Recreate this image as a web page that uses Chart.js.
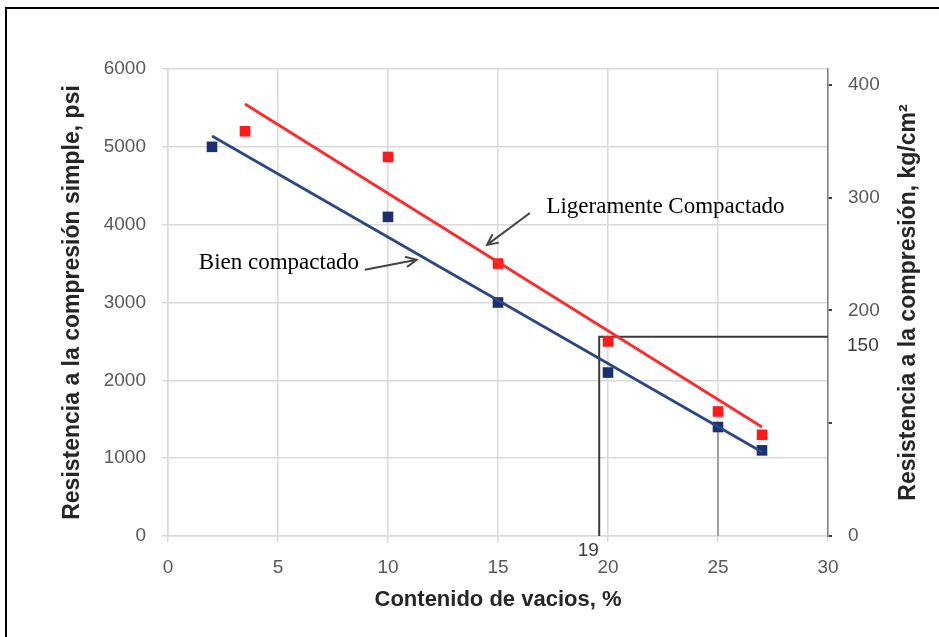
<!DOCTYPE html>
<html>
<head>
<meta charset="utf-8">
<script src="https://cdn.jsdelivr.net/npm/chart.js@4.4.1/dist/chart.umd.min.js"></script>
<style>
  html, body { margin: 0; padding: 0; background: #fff; }
  #wrap { width: 939px; height: 637px; position: relative; }
</style>
</head>
<body>
<div id="wrap"><canvas id="voidsChart"></canvas></div>
<script>
// x = contenido de vacios (%), y = resistencia (psi)
const bienX = [2, 10, 15, 20, 25, 27];
const bienPsi = [5000, 4100, 3000, 2100, 1400, 1100];
const ligeX = [3.5, 10, 15, 20, 25, 27];
const ligePsi = [5200, 4870, 3500, 2500, 1600, 1300];

// trend lines
const bienTrendX = [2, 27];
const bienTrendPsi = [5140, 1080];
const ligeTrendX = [3.5, 27];
const ligeTrendPsi = [5550, 1400];

const xTicks = [0, 5, 10, 15, 20, 25, 30];
const psiTicks = [0, 1000, 2000, 3000, 4000, 5000, 6000];
const kgTicks = [0, 100, 200, 300, 400];
const kgTickLabels = ["0", "", "200", "300", "400"];

// hand-drawn reference marks
const refVoid = 19.6, refVoidLabel = "19";
const refPsi = 2560, refPsiLabel = "150";
const ref25Void = 25, ref25Psi = 1400;

const notes = [
  { text: "Bien compactado", x: 1.4, y: 3510, fromX: 8.95, fromY: 3420, toX: 11.3, toY: 3548 },
  { text: "Ligeramente Compactado", x: 17.2, y: 4230, fromX: 16.45, fromY: 4150, toX: 14.5, toY: 3740 }
];

const rightTitle = "Resistencia a la compresión, kg/cm²";

function pts(xs, ys) {
  return xs.map((x, i) => ({ x: x, y: ys[i] }));
}

const tickFont = { family: "Liberation Sans, Arial, sans-serif", size: 19 };
const titleFont = { family: "Liberation Sans, Arial, sans-serif", size: 23, weight: "bold" };
const gridColor = "#d9d9d9";

const framePlugin = {
  id: "frame",
  beforeDatasetsDraw(chart) {
    const ctx = chart.ctx;
    const xs = chart.scales.x, ys = chart.scales.y;
    ctx.save();
    ctx.strokeStyle = "#3a3a3a";
    ctx.lineWidth = 2;
    ctx.beginPath();
    ctx.moveTo(xs.getPixelForValue(refVoid), ys.getPixelForValue(0));
    ctx.lineTo(xs.getPixelForValue(refVoid), ys.getPixelForValue(refPsi));
    ctx.lineTo(xs.getPixelForValue(30), ys.getPixelForValue(refPsi));
    ctx.stroke();
    ctx.strokeStyle = "#8a8a8a";
    ctx.lineWidth = 1.5;
    ctx.beginPath();
    ctx.moveTo(xs.getPixelForValue(ref25Void), ys.getPixelForValue(0));
    ctx.lineTo(xs.getPixelForValue(ref25Void), ys.getPixelForValue(ref25Psi));
    ctx.stroke();
    ctx.restore();
  },
  afterDraw(chart) {
    const ctx = chart.ctx;
    const xs = chart.scales.x, ys = chart.scales.y;
    ctx.save();
    // outer border (left and top only, as in the picture)
    ctx.strokeStyle = "#000";
    ctx.lineWidth = 2;
    ctx.beginPath();
    ctx.moveTo(6, 637);
    ctx.lineTo(6, 8);
    ctx.lineTo(939, 8);
    ctx.stroke();

    // right axis title, reading bottom to top
    ctx.save();
    ctx.translate(909, (ys.top + ys.bottom) / 2);
    ctx.rotate(-Math.PI / 2);
    ctx.fillStyle = "#262626";
    ctx.font = "bold 23px Liberation Sans, Arial, sans-serif";
    ctx.textAlign = "center";
    ctx.textBaseline = "middle";
    ctx.fillText(rightTitle, 0, 0);
    ctx.restore();

    // labels of the reference lines
    ctx.fillStyle = "#3a3a3a";
    ctx.font = "19px Liberation Sans, Arial, sans-serif";
    ctx.textAlign = "center";
    ctx.textBaseline = "middle";
    ctx.fillText(refVoidLabel, xs.getPixelForValue(refVoid) - 11, ys.bottom + 15);
    ctx.textAlign = "left";
    ctx.fillText(refPsiLabel, xs.right + 19, ys.getPixelForValue(refPsi) + 9);

    // annotations with arrows
    ctx.font = "23px Liberation Serif, Times New Roman, serif";
    ctx.fillStyle = "#000";
    ctx.textBaseline = "middle";
    notes.forEach(n => {
      ctx.textAlign = "left";
      ctx.fillText(n.text, xs.getPixelForValue(n.x), ys.getPixelForValue(n.y));
      const x1 = xs.getPixelForValue(n.fromX), y1 = ys.getPixelForValue(n.fromY);
      const x2 = xs.getPixelForValue(n.toX), y2 = ys.getPixelForValue(n.toY);
      ctx.strokeStyle = "#444";
      ctx.lineWidth = 2;
      ctx.beginPath();
      ctx.moveTo(x1, y1);
      ctx.lineTo(x2, y2);
      const a = Math.atan2(y2 - y1, x2 - x1);
      ctx.moveTo(x2 - 12 * Math.cos(a - 0.45), y2 - 12 * Math.sin(a - 0.45));
      ctx.lineTo(x2, y2);
      ctx.lineTo(x2 - 12 * Math.cos(a + 0.45), y2 - 12 * Math.sin(a + 0.45));
      ctx.stroke();
    });
    ctx.restore();
  }
};

const ctx = document.getElementById("voidsChart").getContext("2d");
new Chart(ctx, {
  type: "scatter",
  data: {
    datasets: [
      {
        label: "Ligeramente Compactado (tendencia)",
        data: pts(ligeTrendX, ligeTrendPsi),
        showLine: true,
        borderColor: "#ff2a2a",
        borderWidth: 2.8,
        pointRadius: 0
      },
      {
        label: "Bien compactado (tendencia)",
        data: pts(bienTrendX, bienTrendPsi),
        showLine: true,
        borderColor: "#2b4785",
        borderWidth: 2.8,
        pointRadius: 0
      },
      {
        label: "Ligeramente Compactado",
        data: pts(ligeX, ligePsi),
        pointStyle: "rect",
        pointRadius: 7.5,
        backgroundColor: "#ff1a1a",
        borderColor: "#ff1a1a",
        borderWidth: 0
      },
      {
        label: "Bien compactado",
        data: pts(bienX, bienPsi),
        pointStyle: "rect",
        pointRadius: 7.5,
        backgroundColor: "#1c2f6e",
        borderColor: "#1c2f6e",
        borderWidth: 0
      }
    ]
  },
  options: {
    responsive: true,
    maintainAspectRatio: false,
    animation: false,
    layout: { padding: { top: 69, left: 0, right: 0, bottom: 0 } },
    plugins: {
      legend: { display: false },
      tooltip: { enabled: false }
    },
    scales: {
      x: {
        type: "linear",
        min: 0,
        max: 30,
        afterBuildTicks: s => { s.ticks = xTicks.map(v => ({ value: v })); },
        afterFit: s => { s.height = 101; },
        grid: { color: gridColor, lineWidth: 1.5, tickLength: 6, tickColor: gridColor },
        border: { color: gridColor, width: 1.5 },
        ticks: { color: "#595959", font: tickFont, padding: 14, maxRotation: 0, callback: v => String(v) },
        title: {
          display: true,
          text: "Contenido de vacios, %",
          color: "#262626",
          font: { family: "Liberation Sans, Arial, sans-serif", size: 22, weight: "bold" },
          padding: { bottom: 24 }
        }
      },
      y: {
        position: "left",
        min: 0,
        max: 6000,
        afterBuildTicks: s => { s.ticks = psiTicks.map(v => ({ value: v })); },
        afterFit: s => { s.width = 168; },
        grid: { color: gridColor, lineWidth: 1.5, tickLength: 6, tickColor: gridColor },
        border: { color: gridColor, width: 1.5 },
        ticks: { color: "#595959", font: tickFont, padding: 16, callback: v => String(v) },
        title: {
          display: true,
          text: "Resistencia a la compresión simple, psi",
          color: "#262626",
          font: titleFont,
          padding: { top: 59 }
        }
      },
      kg: {
        position: "right",
        min: 0,
        max: 414,
        afterBuildTicks: s => { s.ticks = kgTicks.map(v => ({ value: v })); },
        afterFit: s => { s.width = 111; },
        grid: { drawOnChartArea: false, tickLength: 4, tickColor: "#404040", lineWidth: 2 },
        border: { color: "#7f7f7f", width: 1.5 },
        ticks: {
          color: "#595959",
          font: tickFont,
          padding: 16,
          callback: (v, i) => kgTickLabels[i]
        },
        title: { display: false }
      }
    }
  },
  plugins: [framePlugin]
});
</script>
</body>
</html>
